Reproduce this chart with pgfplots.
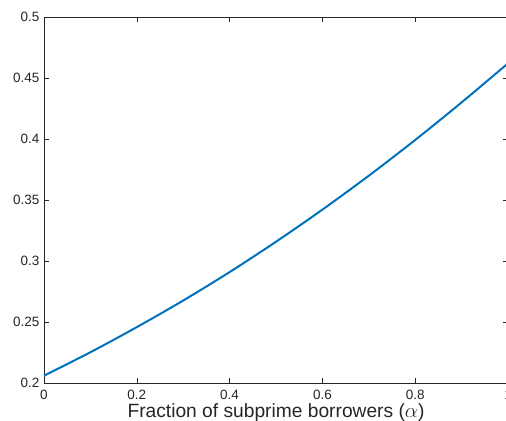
\documentclass[border=0pt]{standalone}
\usepackage{pgfplots}
\pgfplotsset{compat=1.18}
\usepackage{fontspec}
\setmainfont{Liberation Sans}
\definecolor{mblue}{rgb}{0,0.447,0.741}
\definecolor{axgray}{rgb}{0.15,0.15,0.15}
\begin{document}
\begin{tikzpicture}
\begin{axis}[
  scale only axis,
  width=464pt, height=366pt,
  xmin=0, xmax=1, ymin=0.2, ymax=0.5,
  xtick={0,0.2,0.4,0.6,0.8,1},
  ytick={0.2,0.25,0.3,0.35,0.4,0.45,0.5},
  tick align=inside,
  major tick length=5pt,
  axis line style={axgray, line width=0.6pt},
  every tick/.style={axgray, line width=0.6pt},
  tick label style={font=\fontsize{13.5}{16}\selectfont, text=axgray},
  /pgf/number format/assume math mode=true,
  yticklabel style={xshift=-1pt},
  xticklabel style={yshift=-3.5pt},
  xlabel={Fraction of subprime borrowers ($\alpha$)},
  xlabel style={font=\fontsize{19.2}{21}\selectfont, text=axgray,
    at={(axis description cs:0.5,0)}, anchor=base, yshift=-35pt},
  clip=false,
]
\addplot[mblue, line width=2pt, smooth] coordinates {
(0,0.206) (0.1,0.2252) (0.2,0.2458) (0.3,0.2676) (0.4,0.2909) (0.5,0.3158)
(0.6,0.3421) (0.7,0.3699) (0.8,0.3992) (0.9,0.4300) (1,0.4620)
};
\end{axis}
\pgfresetboundingbox
\path ([shift={(-44pt,-38pt)}]current axis.south west) rectangle ([shift={(462pt,17pt)}]current axis.south west |- current axis.north west);
\end{tikzpicture}
\end{document}
